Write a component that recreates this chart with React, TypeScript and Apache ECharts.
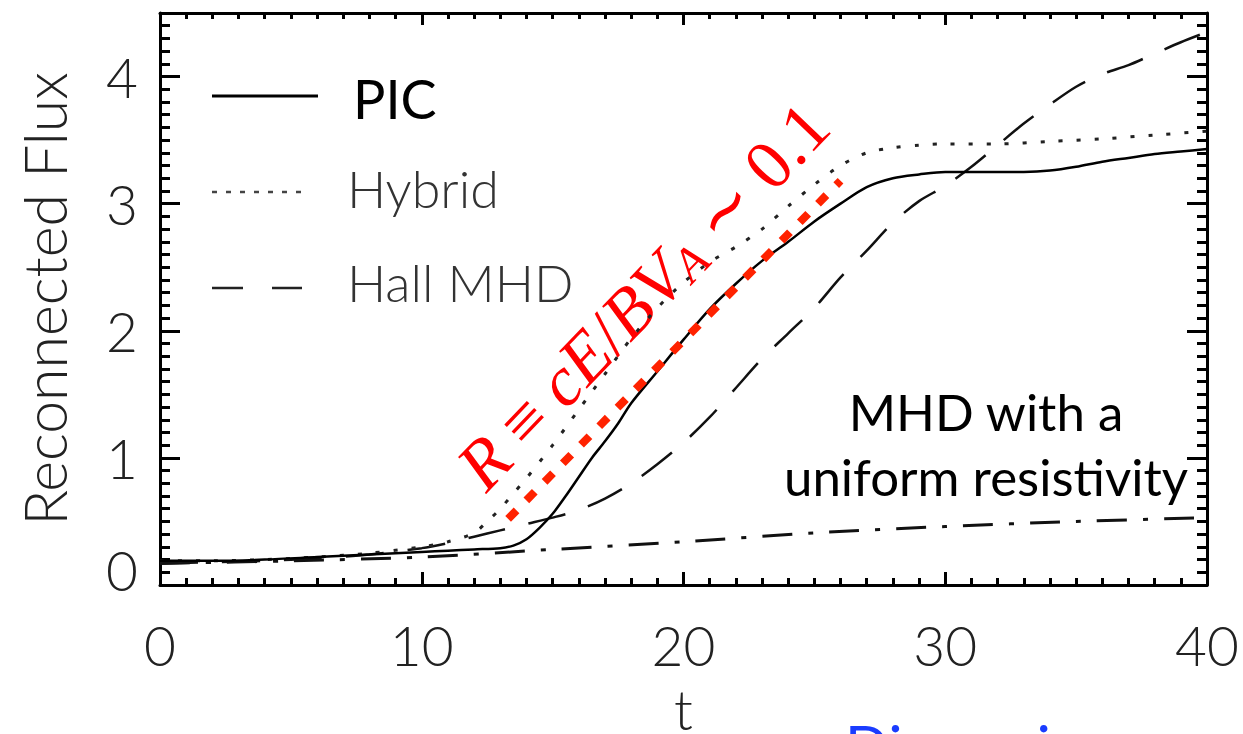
import React, { useEffect, useRef } from "react";
import * as echarts from "echarts";

// ---- data ----
const picT = [0, 2, 4, 6, 8, 10, 11, 12, 13, 13.5, 14, 14.5, 15, 15.5, 16, 16.5, 17, 17.5, 18, 19, 20, 21, 22, 23, 24, 25, 26, 27, 28, 29, 30, 31, 32, 33, 34, 35, 36, 37, 38, 39, 40];
const picY = [0.19, 0.19, 0.2, 0.22, 0.24, 0.26, 0.27, 0.28, 0.29, 0.31, 0.36, 0.45, 0.56, 0.7, 0.85, 1.0, 1.13, 1.27, 1.43, 1.68, 1.93, 2.17, 2.37, 2.55, 2.7, 2.86, 3.0, 3.13, 3.2, 3.23, 3.25, 3.25, 3.25, 3.25, 3.26, 3.29, 3.33, 3.36, 3.39, 3.41, 3.43];

const hybridT = [0, 2, 4, 6, 8, 10, 11, 12, 12.5, 13, 13.5, 14, 15, 16, 17, 18, 19, 20, 21, 22, 23, 24, 25, 26, 27, 28, 29, 30, 32, 34, 36, 38, 40];
const hybridY = [0.19, 0.19, 0.2, 0.22, 0.25, 0.3, 0.34, 0.41, 0.5, 0.6, 0.72, 0.84, 1.1, 1.38, 1.66, 1.94, 2.18, 2.38, 2.54, 2.66, 2.8, 2.98, 3.15, 3.3, 3.4, 3.44, 3.46, 3.47, 3.47, 3.49, 3.51, 3.54, 3.57];

const hallT = [0, 2, 4, 6, 8, 10, 11, 12, 13, 14, 15, 16, 17, 18, 19, 20, 21, 22, 23, 24, 25, 26, 27, 28, 29, 30, 31, 32, 33, 34, 35, 36, 37, 38, 39, 40];
const hallY = [0.17, 0.18, 0.19, 0.21, 0.24, 0.29, 0.33, 0.38, 0.43, 0.48, 0.53, 0.59, 0.68, 0.8, 0.95, 1.12, 1.32, 1.55, 1.78, 1.98, 2.18, 2.42, 2.63, 2.85, 3.02, 3.14, 3.29, 3.46, 3.63, 3.78, 3.92, 4.02, 4.09, 4.18, 4.27, 4.35];

const mhdT = [0, 5, 10, 15, 20, 25, 30, 35, 40];
const mhdY = [0.17, 0.19, 0.22, 0.28, 0.34, 0.41, 0.46, 0.5, 0.53];

const fitT = [13.3, 26.0];
const fitY = [0.52, 3.18];

const xTicks = [0, 10, 20, 30, 40];
const yTicks = [0, 1, 2, 3, 4];

const legendNames = ["PIC", "Hybrid", "Hall MHD"];

const zip = (t: number[], y: number[]) => t.map((v, i) => [v, y[i]]);

const LABEL_FONT = "Lato";
const INK = "#000";

export default function App() {
  const ref = useRef<HTMLDivElement>(null);

  useEffect(() => {
    if (!ref.current) return;
    const chart = echarts.init(ref.current, undefined, { renderer: "svg" });

    const tick = (length: number) => ({ show: true, inside: true, length, lineStyle: { color: INK, width: 3 } });
    const minor = (length: number, splitNumber: number) => ({
      show: true,
      splitNumber,
      length,
      lineStyle: { color: INK, width: 3 },
    });
    const labelStyle = { fontFamily: LABEL_FONT, fontWeight: 300, fontSize: 55, color: "#222" };

    const option: any = {
      animation: false,
      backgroundColor: "#fff",
      grid: { left: 160, right: 36, top: 13, bottom: 149, outerBoundsMode: "none" },
      xAxis: [
        {
          type: "value",
          min: 0,
          max: 40,
          interval: 10,
          position: "bottom",
          splitLine: { show: false },
          minorSplitLine: { show: false },
          axisLine: { show: true, lineStyle: { color: INK, width: 3 } },
          axisTick: tick(13),
          minorTick: minor(7, 10),
          axisLabel: {
            show: true,
            margin: 32,
            ...labelStyle,
            formatter: (v: number) => (xTicks.includes(v) ? String(v) : ""),
          },
          name: "t",
          nameLocation: "middle",
          nameGap: 102,
          nameTextStyle: { ...labelStyle, lineHeight: 44 },
        },
        {
          type: "value",
          min: 0,
          max: 40,
          interval: 10,
          position: "top",
          splitLine: { show: false },
          minorSplitLine: { show: false },
          axisLine: { show: true, onZero: false, lineStyle: { color: INK, width: 3 } },
          axisTick: tick(12),
          minorTick: minor(6, 10),
          axisLabel: { show: false },
        },
      ],
      yAxis: [
        {
          type: "value",
          min: 0,
          max: 4.5,
          interval: 1,
          position: "left",
          splitLine: { show: false },
          minorSplitLine: { show: false },
          axisLine: { show: true, lineStyle: { color: INK, width: 3 } },
          axisTick: tick(20),
          minorTick: minor(10, 10),
          axisLabel: {
            show: true,
            margin: 22,
            ...labelStyle,
            formatter: (v: number) => (v === 0 ? "{z|0}" : yTicks.includes(v) ? String(v) : ""),
            rich: { z: { ...labelStyle, padding: [0, 0, 30, 0] } },
          },
          name: "Reconnected Flux",
          nameLocation: "middle",
          nameRotate: 90,
          nameGap: 86,
          nameTextStyle: { ...labelStyle, fontSize: 59 },
        },
        {
          type: "value",
          min: 0,
          max: 4.5,
          interval: 1,
          position: "right",
          splitLine: { show: false },
          minorSplitLine: { show: false },
          axisLine: { show: true, onZero: false, lineStyle: { color: INK, width: 3 } },
          axisTick: tick(20),
          minorTick: minor(10, 10),
          axisLabel: { show: false },
        },
      ],
      series: [
        {
          name: "MHD uniform resistivity",
          type: "line",
          data: zip(mhdT, mhdY),
          symbol: "none",
          smooth: 0.3,
          lineStyle: { color: "#111", width: 3, type: [30, 16, 5, 16] },
        },
        {
          name: legendNames[2],
          type: "line",
          data: zip(hallT, hallY),
          symbol: "none",
          smooth: 0.3,
          lineStyle: { color: "#111", width: 2.5, type: [38, 24] },
        },
        {
          name: legendNames[1],
          type: "line",
          data: zip(hybridT, hybridY),
          symbol: "none",
          smooth: 0.3,
          lineStyle: { color: "#222", width: 3, type: [4, 14] },
        },
        {
          name: legendNames[0],
          type: "line",
          data: zip(picT, picY),
          symbol: "none",
          smooth: 0.3,
          lineStyle: { color: "#000", width: 2.5, type: "solid" },
        },
        {
          name: "R fit",
          type: "line",
          data: zip(fitT, fitY),
          symbol: "none",
          z: 5,
          lineStyle: { color: "#ff2200", width: 8, type: [12, 14], cap: "butt" },
        },
      ],
      graphic: [
        { type: "line", shape: { x1: 212, y1: 96, x2: 318, y2: 96 }, style: { stroke: "#000", lineWidth: 3 } },
        { type: "text", x: 353, y: 98, style: { text: legendNames[0], fontFamily: "Lato", fontSize: 54, fill: "#000", verticalAlign: "middle", align: "left" } },
        { type: "line", shape: { x1: 212, y1: 192, x2: 302, y2: 192 }, style: { stroke: "#444", lineWidth: 2.5, lineDash: [5, 9] } },
        { type: "text", x: 347, y: 188, style: { text: legendNames[1], fontFamily: LABEL_FONT, fontWeight: 300, fontSize: 52, fill: "#333", verticalAlign: "middle", align: "left" } },
        { type: "line", shape: { x1: 212, y1: 288, x2: 302, y2: 288 }, style: { stroke: "#222", lineWidth: 2.5, lineDash: [31, 29] } },
        { type: "text", x: 347, y: 282, style: { text: legendNames[2], fontFamily: LABEL_FONT, fontWeight: 300, fontSize: 52, fill: "#333", verticalAlign: "middle", align: "left" } },
        {
          type: "text",
          x: 986,
          y: 444,
          style: {
            text: "MHD with a\nuniform resistivity",
            fontFamily: "Lato",
            fontSize: 51,
            lineHeight: 65,
            fill: "#000",
            align: "center",
            verticalAlign: "middle",
          },
        },
        {
          type: "text",
          x: 643,
          y: 296,
          rotation: (46.3 * Math.PI) / 180,
          style: {
            text: "{i|R} {n|≡} {i|cE}{n|/}{i|BV}{s|A} {n|∼} {n|0.1}",
            fontFamily: "Liberation Serif",
            fontSize: 66,
            fill: "#ff0000",
            align: "center",
            verticalAlign: "middle",
            rich: {
              i: { fontFamily: "Liberation Serif", fontStyle: "italic", fontSize: 70, fill: "#ff0000" },
              n: { fontFamily: "Liberation Serif", fontSize: 70, fill: "#ff0000" },
              s: { fontFamily: "Liberation Serif", fontStyle: "italic", fontSize: 48, fill: "#ff0000", verticalAlign: "bottom" },
            },
          },
        },
        {
          type: "text",
          x: 845,
          y: 716,
          style: { text: "Dispersive", fontFamily: "Lato", fontSize: 58, fill: "#1a3cff", align: "left", verticalAlign: "top" },
        },
      ],
    };

    chart.setOption(option);
    return () => chart.dispose();
  }, []);

  return <div ref={ref} style={{ position: "fixed", left: 0, top: 0, width: 1243, height: 734 }} />;
}
